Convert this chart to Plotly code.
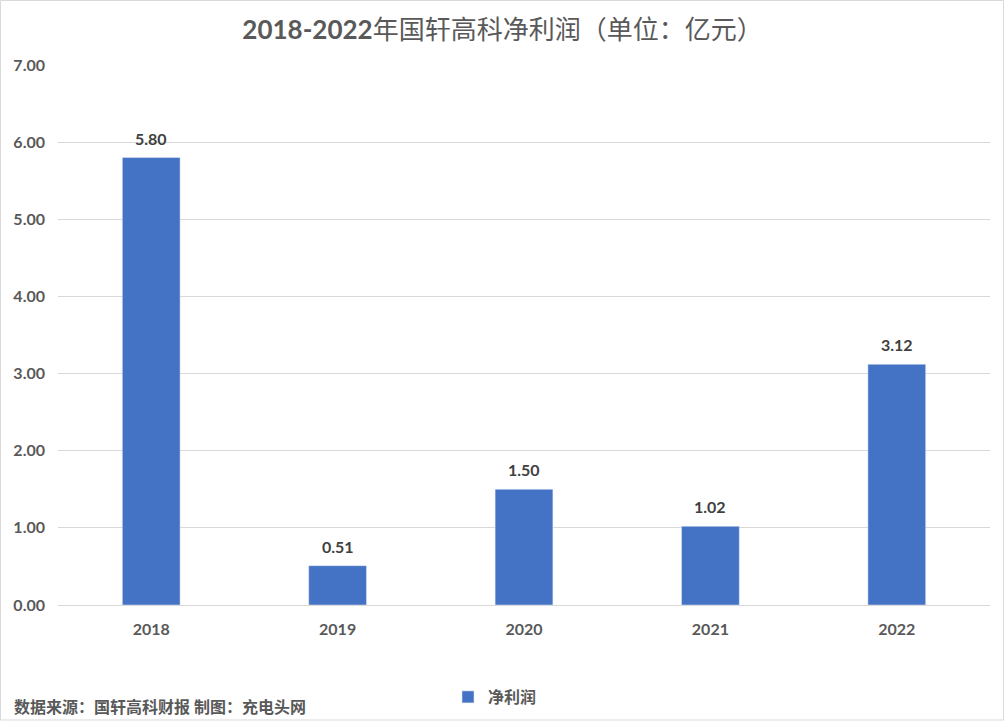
import plotly.graph_objects as go

years = ["2018", "2019", "2020", "2021", "2022"]
net_profit = [5.80, 0.51, 1.50, 1.02, 3.12]
y_ticks = [0, 1, 2, 3, 4, 5, 6, 7]
y_tick_labels = ["0.00", "1.00", "2.00", "3.00", "4.00", "5.00", "6.00", "7.00"]

W, H = 1005, 721
ML, MR, MT, MB = 58, 15, 65, 116
TEXT = "#595959"
FONT = "Lato, 'Noto Sans CJK SC', sans-serif"

fig = go.Figure()
fig.add_trace(go.Bar(
    x=years, y=net_profit, name="<b>净利润</b>",
    marker_color="#4472C4",
    cliponaxis=False,
))

# data labels above the bars (category index as x)
for i, v in enumerate(net_profit):
    fig.add_annotation(x=i, y=v, text=f"<b>{v:.2f}</b>", showarrow=False,
                       yanchor="bottom", yshift=8,
                       font=dict(size=16, color="#404040", family=FONT))

pw, ph = W - ML - MR, H - MT - MB
fig.add_shape(type="rect", xref="paper", yref="paper",
              x0=(-ML + 0.5) / pw, x1=(W - ML - 1.5) / pw,
              y0=(-MB + 1) / ph, y1=(H - MB - 0.5) / ph,
              line=dict(color="#D9D9D9", width=1), layer="below")

fig.update_layout(
    width=W, height=H,
    margin=dict(l=ML, r=MR, t=MT, b=MB, autoexpand=False),
    paper_bgcolor="white", plot_bgcolor="white",
    font=dict(family=FONT, color=TEXT),
    title=dict(text="<b>2018-2022</b>年国轩高科净利润（单位：亿元）",
               x=0.5, xanchor="center", y=1 - 30 / H, yanchor="middle",
               font=dict(size=26, color=TEXT)),
    bargap=0.69,
    showlegend=True,
    legend=dict(orientation="h", x=(448 - ML) / pw, xanchor="left",
                y=-(697 - H + MB) / ph, yanchor="middle",
                itemwidth=30,
                font=dict(size=16, color=TEXT)),
    xaxis=dict(type="category", showgrid=False, showline=True, linecolor="#D9D9D9",
               ticks="", tickfont=dict(size=16, color=TEXT),
               automargin=False, ticklabelstandoff=10),
    yaxis=dict(range=[0, 7], tickvals=y_ticks, ticktext=[f"<b>{t}</b>" for t in y_tick_labels],
               showgrid=True, gridcolor="#D9D9D9", zeroline=False,
               tickfont=dict(size=16, color=TEXT), ticklabelstandoff=12,
               automargin=False),
)
fig.update_xaxes(tickvals=years, ticktext=[f"<b>{y}</b>" for y in years])

fig.add_annotation(text="<b>数据来源：国轩高科财报 制图：充电头网</b>",
                   xref="paper", yref="paper",
                   x=(12 - ML) / pw, xanchor="left",
                   y=-(706 - H + MB) / ph, yanchor="middle",
                   showarrow=False, font=dict(size=16, color=TEXT))

fig.write_html("out.html", config={"displayModeBar": False},
               post_script="document.body.style.margin='0';")
